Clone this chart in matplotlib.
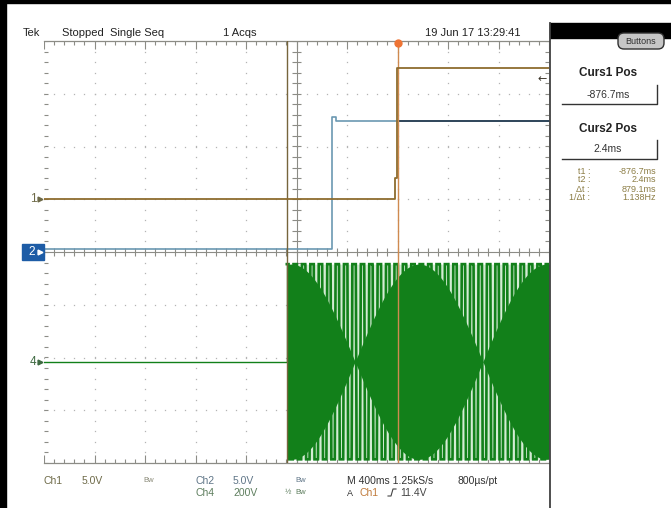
import numpy as np
import matplotlib
matplotlib.use('Agg')
import matplotlib.pyplot as plt
from matplotlib import font_manager
from matplotlib.patches import Rectangle, FancyBboxPatch

W, H = 671, 508
# graticule box on the screenshot, pixels (left, top, right, bottom)
GL, GT, GR, GB = 44, 41, 549, 463

# scope setup
ms_per_div = 400.0
trig_div = 2.0                       # trigger point sits 2 div right of centre
ch1_vdiv, ch2_vdiv, ch4_vdiv = 5.0, 5.0, 200.0
ch1_pos, ch2_pos, ch4_pos = 1.0, 0.0, -2.08
trig_level = 11.4
curs1_ms, curs2_ms = -876.7, 2.4
sample_ms = 0.8

# Ch1 / Ch2 step traces (ms, V)
ch1_t = [-2800.0, -20.0, -20.0, -4.0, -4.0, 1200.0]
ch1_v = [0.0, 0.0, 2.0, 2.0, 12.4, 12.4]
ch2_t = [-2800.0, -522.0, -522.0, -490.0, -490.0, 1200.0]
ch2_v = [0.3, 0.3, 12.8, 12.8, 12.4, 12.4]

# Ch4: flat before the burst, then the burst as it shows on the display
ch4_flat_t = [-2800.0, -876.7]
ch4_flat_v = [0.0, 0.0]
ch4_start_ms = -876.7
ch4_peak_v = 370.0
ch4_node_ms = [-336.0, 676.0]
ch4_stripe_ms = 33.3

# readouts
top_texts = [("Tek", 23), ("Stopped  Single Seq", 62), ("1 Acqs", 223), ("19 Jun 17 13:29:41", 425)]
cursor_rows = [("t1 :", "-876.7ms"), ("t2 :", "2.4ms"), ("\u0394t :", "879.1ms"), ("1/\u0394t :", "1.138Hz")]

names = {f.name for f in font_manager.fontManager.ttflist}
fam = 'Liberation Sans Narrow' if 'Liberation Sans Narrow' in names else 'Liberation Sans'
plt.rcParams['font.family'] = [fam, 'DejaVu Sans']

c_ch1 = '#8e6c2e'
c_ch2 = '#6b98b2'
c_ch2_dark = '#22364a'
c_ch4 = '#12801a'
c_grat = '#8c8c86'
c_dot = '#b4b4b4'


def xdiv(t):
    return np.asarray(t, float) / ms_per_div + trig_div


def ydiv(v, scale, pos):
    return np.asarray(v, float) / scale + pos


fig = plt.figure(figsize=(W / 100, H / 100), dpi=100)
ax = fig.add_axes([GL / W, 1 - GB / H, (GR - GL) / W, (GB - GT) / H])
ax.set_xlim(-5, 5)
ax.set_ylim(-4, 4)
ax.set_xticks([])
ax.set_yticks([])
for s in ['left', 'right']:
    ax.spines[s].set_visible(False)
for s in ['top', 'bottom']:
    ax.spines[s].set_color(c_grat)
    ax.spines[s].set_linewidth(0.9)

# graticule: dotted division lines, centre cross, edge ticks
ys = np.arange(-4, 4.01, 0.2)
xs = np.arange(-5, 5.01, 0.2)
for xv in range(-4, 5):
    if xv != 0:
        ax.plot([xv] * len(ys), ys, ls='none', marker='s', ms=0.9, mew=0, color=c_dot, zorder=1)
for yv in range(-3, 4):
    if yv != 0:
        ax.plot(xs, [yv] * len(xs), ls='none', marker='s', ms=0.9, mew=0, color=c_dot, zorder=1)
ax.axhline(0, color=c_grat, lw=0.8, zorder=1)
ax.axvline(0, color=c_grat, lw=0.8, zorder=1)
ax.vlines(xs, -0.08, 0.08, color=c_grat, lw=0.8, zorder=1)
ax.hlines(ys, -0.08, 0.08, color=c_grat, lw=0.8, zorder=1)
major_x = np.isclose(xs, np.round(xs))
ax.vlines(xs, 4 - np.where(major_x, 0.15, 0.07), 4, color=c_grat, lw=0.8)
ax.vlines(xs, -4, -4 + np.where(major_x, 0.15, 0.07), color=c_grat, lw=0.8)
ax.hlines(ys, -5, -4.92, color=c_grat, lw=0.8)
ax.hlines(ys, 4.92, 5, color=c_grat, lw=0.8)

# Ch4: display shows near-vertical strokes inside the beat envelope
t_b = np.arange(ch4_start_ms, 1200 + sample_ms, sample_ms)
beat_ms = ch4_node_ms[1] - ch4_node_ms[0]
mid_ms = sum(ch4_node_ms) / 2
env = ch4_peak_v * np.abs(np.cos(np.pi * (t_b - mid_ms) / beat_ms))
wave = ch4_peak_v * np.clip(4 * np.cos(np.pi * (t_b - ch4_start_ms) / ch4_stripe_ms), -1, 1)
ax.fill_between(xdiv(t_b), ydiv(-ch4_peak_v, ch4_vdiv, ch4_pos), ydiv(ch4_peak_v, ch4_vdiv, ch4_pos),
                color='#d4ecd4', lw=0, zorder=2)
ax.plot(xdiv(t_b), ydiv(wave, ch4_vdiv, ch4_pos), color=c_ch4, lw=1.9, zorder=3, solid_joinstyle='miter')
ax.fill_between(xdiv(t_b), ydiv(-env, ch4_vdiv, ch4_pos), ydiv(env, ch4_vdiv, ch4_pos),
                color=c_ch4, lw=0, zorder=3)
ax.plot(xdiv(ch4_flat_t + [ch4_start_ms]), ydiv(ch4_flat_v + [wave[0]], ch4_vdiv, ch4_pos),
        color=c_ch4, lw=1.0, zorder=3)

# Ch2, darker after the trigger
ax.plot(xdiv(ch2_t), ydiv(ch2_v, ch2_vdiv, ch2_pos), color=c_ch2, lw=1.2, zorder=4)
l2, = ax.plot(xdiv(ch2_t), ydiv(ch2_v, ch2_vdiv, ch2_pos), color=c_ch2_dark, lw=1.2, zorder=4)
l2.set_clip_path(Rectangle((trig_div, -4), 5, 8, transform=ax.transData))

# cursors
ax.axvline(xdiv(curs1_ms), color='#76653c', lw=1.0, zorder=5)
ax.axvline(xdiv(curs2_ms), color='#cf8a50', lw=1.0, zorder=5)

# Ch1
ax.plot(xdiv(ch1_t), ydiv(ch1_v, ch1_vdiv, ch1_pos), color=c_ch1, lw=1.3, zorder=6)

# trigger position and level markers
ax.plot(trig_div, 3.97, marker='o', ms=6, color='#ee7434', mew=0, clip_on=False, zorder=7)
ax.text(4.86, ydiv(trig_level, ch1_vdiv, ch1_pos), '\u2190', ha='center', va='center',
        fontsize=8, color='#3a3328', family='DejaVu Sans', zorder=7)

# channel reference markers on the left
ax.text(-5.22, ch1_pos, '1', ha='center', va='center', fontsize=8.5, color='#6e6a48', clip_on=False)
ax.plot(-5.07, ch1_pos, marker='>', ms=3.5, color='#6e6a48', clip_on=False)
ax.text(-5.22, ch4_pos, '4', ha='center', va='center', fontsize=8.5, color='#3f6a42', clip_on=False)
ax.plot(-5.07, ch4_pos, marker='>', ms=3.5, color='#3f6a42', clip_on=False)
ax.add_patch(Rectangle((-5.44, ch2_pos - 0.15), 0.44, 0.3, color='#1d5ca6', clip_on=False, zorder=7))
ax.text(-5.25, ch2_pos, '2', ha='center', va='center', fontsize=8.5, color='white', clip_on=False, zorder=8)
ax.plot(-5.07, ch2_pos, marker='>', ms=3.5, color='white', clip_on=False, zorder=8)

# overlay in pixel coordinates for the frame, readouts and side menu
ov = fig.add_axes([0, 0, 1, 1])
ov.set_xlim(0, W)
ov.set_ylim(H, 0)
ov.axis('off')
ov.patch.set_visible(False)

ov.add_patch(Rectangle((0, 0), W, 3, color='black'))
ov.add_patch(Rectangle((0, 0), 6, H, color='black'))

for txt, x in top_texts:
    ov.text(x, 33, txt, ha='left', va='center', fontsize=8, color='#222222')

# side menu
ov.add_patch(Rectangle((550, 23), W - 550, 15, color='black'))
ov.plot([550, 550], [23, H], color='#404040', lw=1.3)
ov.add_patch(FancyBboxPatch((618, 33), 46, 16, boxstyle='round,pad=0,rounding_size=6',
                            fc='#c6c6c6', ec='#303030', lw=1.0))
ov.text(641, 41, 'Buttons', ha='center', va='center', fontsize=6.5, color='#303030')

ov.text(608, 73, 'Curs1 Pos', ha='center', va='center', fontsize=8.5, fontweight='bold', color='#222222')
ov.text(608, 95, '-876.7ms', ha='center', va='center', fontsize=7.5, color='#333333')
ov.plot([562, 657, 657], [104, 104, 85], color='#333333', lw=1.0)
ov.text(608, 129, 'Curs2 Pos', ha='center', va='center', fontsize=8.5, fontweight='bold', color='#222222')
ov.text(608, 149, '2.4ms', ha='center', va='center', fontsize=7.5, color='#333333')
ov.plot([562, 657, 657], [159, 159, 140], color='#333333', lw=1.0)

for i, (lab, val) in enumerate(cursor_rows):
    y = 171 + i * 9
    ov.text(590, y, lab, ha='right', va='center', fontsize=6.5, color='#8c7d45')
    ov.text(656, y, val, ha='right', va='center', fontsize=6.5, color='#8c7d45')

# bottom readouts
bottom = [
    ('Ch1', 43, 481, '#6e6a48', 7.5), ('5.0V', 82, 481, '#6e6a48', 7.5), ('Bw', 143, 481, '#8a8a78', 5.5),
    ('Ch2', 195, 481, '#5f7587', 7.5), ('5.0V', 233, 481, '#5f7587', 7.5), ('Bw', 295, 481, '#5f7587', 5.5),
    ('Ch4', 195, 493, '#5e7e5e', 7.5), ('200V', 233, 493, '#5e7e5e', 7.5), ('\u00bd', 285, 493, '#5e7e5e', 5.5),
    ('Bw', 295, 493, '#5e7e5e', 5.5),
    ('M 400ms 1.25kS/s', 347, 481, '#333333', 7.5), ('800\u00b5s/pt', 458, 481, '#333333', 7.5),
    ('A', 347, 493, '#333333', 6.5), ('Ch1', 359, 493, '#c07a3a', 7.5), ('11.4V', 400, 493, '#444444', 7.5),
]
for txt, x, y, col, fs in bottom:
    ov.text(x, y, txt, ha='left', va='center', fontsize=fs, color=col)
ov.plot([388, 391, 393, 396], [496, 496, 489, 489], color='#444444', lw=0.8)

fig.savefig('out.png', dpi=100)
